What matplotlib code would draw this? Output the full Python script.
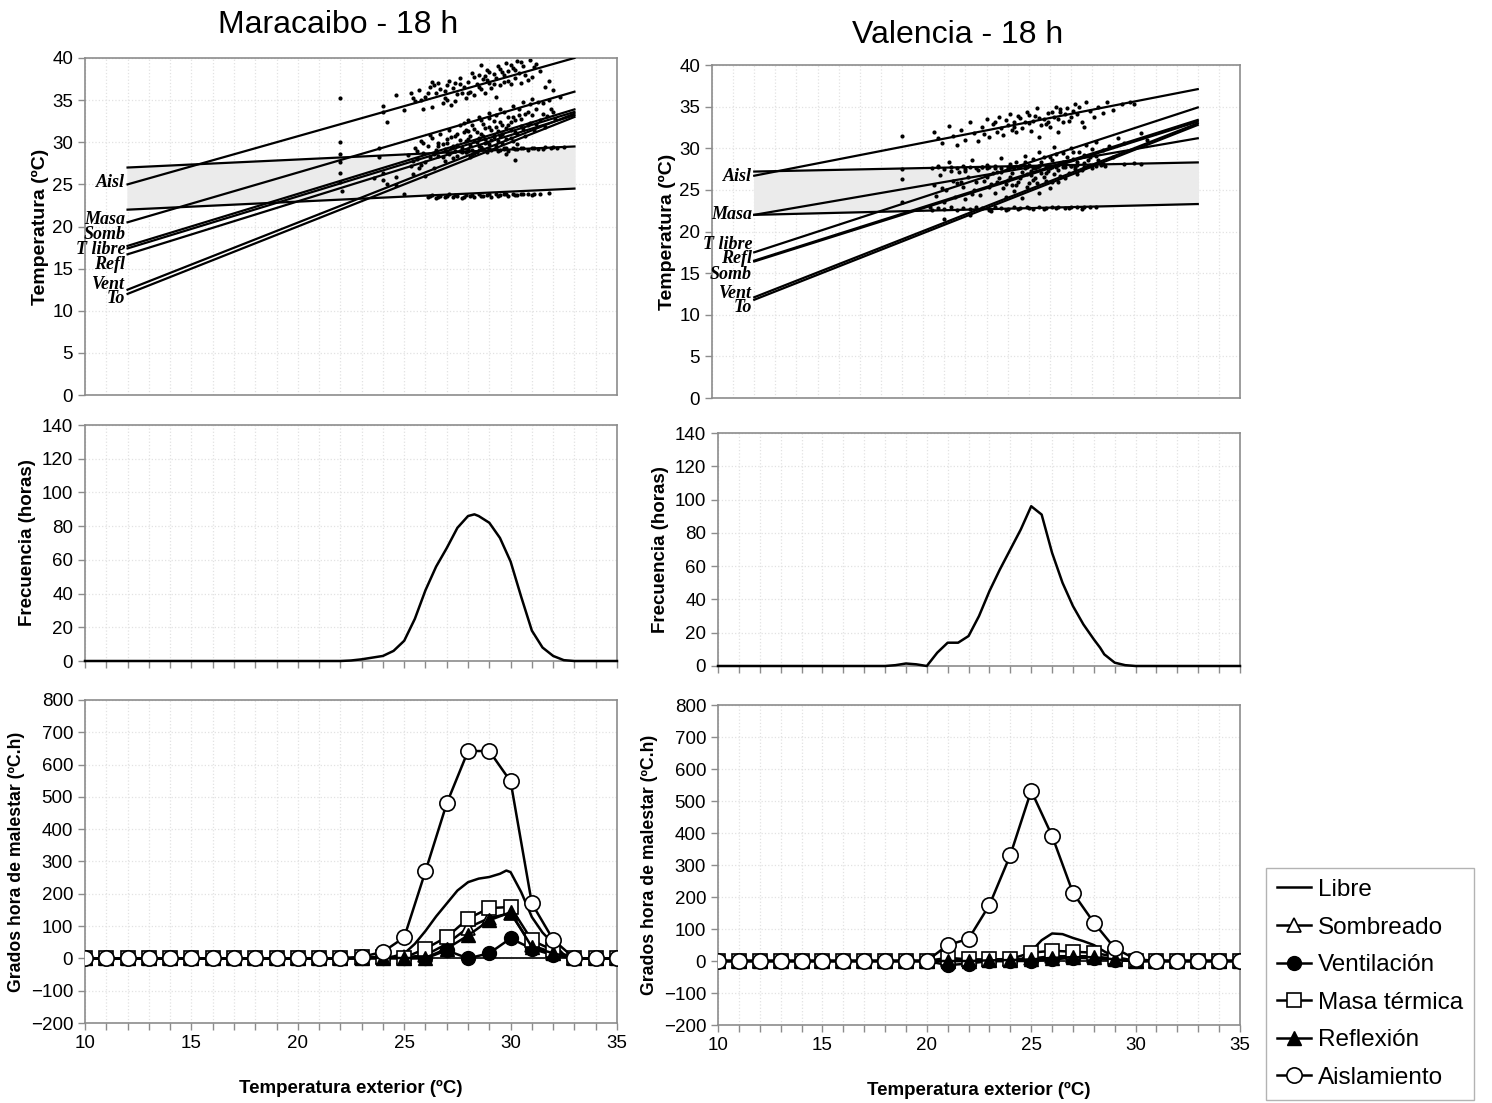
import matplotlib
matplotlib.use("Agg")
import matplotlib.pyplot as plt
import numpy as np

plt.rcParams['font.family'] = ['Liberation Sans', 'DejaVu Sans']

# ---------------- datos: rectas de regresión (x = 12 -> 33) ----------------
x_rectas = [12, 33]

mar_rectas = {
    "Aisl":    [25.0, 40.0],
    "Masa":    [20.5, 36.0],
    "Somb":    [17.7, 33.9],
    "T libre": [17.4, 33.6],
    "Refl":    [16.7, 33.2],
    "Vent":    [12.5, 33.4],
    "To":      [12.0, 33.0],
}
mar_banda_sup = [27.0, 29.5]
mar_banda_inf = [22.0, 24.5]
mar_etiq_y = {"Aisl": 25.2, "Masa": 20.8, "Somb": 19.0, "T libre": 17.3,
              "Refl": 15.5, "Vent": 13.1, "To": 11.4}

val_rectas = {
    "Aisl":    [26.7, 37.1],
    "Masa":    [22.0, 31.2],
    "T libre": [17.5, 34.9],
    "Refl":    [16.5, 33.4],
    "Somb":    [16.4, 33.2],
    "Vent":    [12.1, 33.0],
    "To":      [11.8, 32.8],
}
val_banda_sup = [27.2, 28.3]
val_banda_inf = [22.0, 23.3]
val_etiq_y = {"Aisl": 26.6, "Masa": 22.0, "T libre": 18.4, "Refl": 16.7,
              "Somb": 14.8, "Vent": 12.6, "To": 10.9}

# ---------------- datos: nubes de puntos ----------------
mar_sup_x = [24.6, 25.0, 25.3, 25.5, 25.7, 25.9, 26.0, 26.2, 26.3, 26.5, 26.6, 26.8, 26.9, 27.0,
             27.1, 27.3, 27.4, 27.5, 27.6, 27.8, 27.9, 28.0, 28.1, 28.2, 28.3, 28.4, 28.5, 28.6,
             28.7, 28.8, 28.9, 29.0, 29.1, 29.2, 29.3, 29.4, 29.5, 29.6, 29.7, 29.8, 29.9, 30.0,
             30.1, 30.2, 30.3, 30.4, 30.5, 30.6, 30.7, 30.9, 31.0, 31.2, 31.4, 31.6, 31.8, 32.0,
             26.4, 27.2, 28.6, 29.3, 22.0, 24.0, 24.0, 24.2,
             26.1, 26.7, 27.0, 27.4, 27.7, 28.0, 28.3, 28.5, 28.8, 29.0, 29.2, 29.5, 29.7, 30.0,
             30.2, 30.5, 30.8, 31.1, 27.6, 28.9, 29.9, 26.9, 25.4, 25.8, 26.3]
mar_sup_y = [35.6, 33.8, 35.9, 34.9, 36.2, 33.9, 35.4, 36.5, 34.2, 35.8, 37.0, 34.6, 36.1, 35.0,
             37.3, 36.4, 34.9, 35.7, 37.6, 36.6, 35.3, 37.2, 36.0, 38.2, 35.6, 36.9, 38.0, 36.3,
             37.5, 35.8, 38.6, 37.0, 36.4, 38.1, 37.6, 39.0, 36.8, 38.3, 37.2, 39.4, 38.5, 36.9,
             38.8, 37.6, 39.6, 38.2, 37.0, 39.1, 38.0, 39.8, 37.8, 39.3, 38.4, 36.5, 37.3, 36.2,
             36.8, 34.4, 39.2, 35.4, 35.3, 34.3, 33.6, 32.4,
             35.8, 36.3, 36.8, 37.0, 35.9, 35.8, 37.7, 36.5, 37.9, 38.3, 36.9, 38.7, 38.0, 39.2,
             38.6, 39.5, 37.4, 38.9, 36.9, 37.4, 37.3, 35.3, 35.2, 35.0, 37.2]

mar_nube_x = [22.0, 22.0, 22.0, 22.0, 22.0, 22.1, 23.8, 23.8, 24.0, 24.0, 24.2, 23.6, 24.6, 24.6,
              25.2, 25.3, 25.5, 25.6, 25.7, 25.8, 25.9, 26.0, 26.1, 26.2, 26.3, 26.4, 26.5, 26.6,
              26.7, 26.8, 26.9, 27.0, 27.0, 27.1, 27.2, 27.3, 27.4, 27.5, 27.6, 27.7, 27.8, 27.9,
              28.0, 28.0, 28.1, 28.2, 28.3, 28.4, 28.5, 28.5, 28.6, 28.7, 28.8, 28.9, 29.0, 29.0,
              29.1, 29.2, 29.3, 29.4, 29.5, 29.5, 29.6, 29.7, 29.8, 29.9, 30.0, 30.0, 30.1, 30.2,
              30.3, 30.4, 30.5, 30.6, 30.7, 30.8, 30.9, 31.0, 31.1, 31.2, 31.4, 31.5, 31.7, 31.9,
              32.1, 32.3, 29.8, 30.2, 25.4, 26.0, 27.4, 28.8, 29.6, 26.6, 27.9, 29.2,
              26.6, 26.8, 27.0, 27.1, 27.2, 27.3, 27.5, 27.5, 27.6, 27.7, 27.8, 27.9, 28.0, 28.0,
              28.1, 28.2, 28.3, 28.3, 28.4, 28.5, 28.6, 28.6, 28.7, 28.8, 28.9, 29.0, 29.0, 29.1,
              29.2, 29.3, 29.3, 29.4, 29.5, 29.6, 29.7, 29.8, 29.9, 30.0, 30.1, 30.2, 30.3, 30.4,
              30.5, 30.6, 30.7, 30.8, 30.9, 31.0, 31.2, 31.3, 31.5, 31.6, 31.8, 32.0, 26.2, 25.9,
              25.6, 25.4, 25.8, 26.4, 26.9, 27.4, 28.1, 29.6, 30.1]
mar_nube_y = [30.0, 28.6, 27.6, 26.4, 25.3, 24.2, 29.3, 28.2, 26.3, 25.5, 25.0, 25.8, 25.9, 24.9,
              28.5, 27.2, 29.3, 28.0, 26.9, 30.1, 28.7, 27.6, 29.6, 28.2, 30.5, 27.0, 29.1, 28.4,
              31.0, 29.8, 27.8, 30.4, 28.9, 31.5, 29.3, 28.1, 30.8, 29.7, 32.0, 28.8, 31.2, 30.1,
              29.2, 32.6, 30.7, 28.5, 31.6, 30.0, 33.0, 29.5, 31.0, 32.2, 30.4, 28.9, 31.8, 33.5,
              30.3, 32.5, 29.6, 31.3, 33.9, 30.7, 32.1, 29.3, 31.7, 33.0, 30.5, 32.4, 34.3, 31.2,
              29.8, 33.2, 31.9, 34.8, 30.8, 33.6, 32.3, 35.1, 31.5, 33.9, 32.6, 34.6, 33.1, 34.0,
              32.8, 35.4, 28.6, 27.9, 26.2, 26.0, 29.0, 29.9, 31.0, 29.9, 31.4, 30.9,
              29.5, 28.3, 29.9, 28.6, 30.6, 29.6, 28.4, 31.0, 30.3, 29.3, 32.3, 28.9, 30.4, 31.3,
              29.7, 32.0, 30.2, 28.7, 31.2, 30.5, 29.4, 32.6, 30.8, 31.7, 30.0, 32.9, 29.8, 31.4,
              30.6, 33.2, 31.8, 30.2, 32.4, 31.0, 33.6, 30.4, 32.0, 31.5, 33.0, 32.6, 31.0, 34.0,
              32.8, 31.6, 33.4, 32.0, 34.5, 33.2, 32.2, 34.8, 33.4, 31.8, 35.0, 33.6, 30.9, 29.9,
              29.0, 27.8, 27.3, 28.6, 29.2, 29.0, 28.2, 29.9, 30.1]

mar_bsup_x = [27.6, 27.9, 28.2, 28.4, 28.7, 28.9, 29.1, 29.3, 29.5, 29.7, 29.9, 30.1, 30.3, 30.5,
              30.8, 31.0, 31.3, 31.6, 31.9, 32.2, 32.5, 28.0, 28.5, 29.0, 29.4, 29.8, 30.2, 30.6,
              31.1, 31.5, 32.0]
mar_bsup_y = [29.0, 28.8, 29.1, 28.9, 29.2, 29.0, 29.1, 29.3, 29.1, 29.2, 29.0, 29.3, 29.2, 29.3,
              29.1, 29.3, 29.2, 29.4, 29.3, 29.3, 29.4, 29.0, 29.1, 29.2, 29.0, 29.3, 29.2, 29.3,
              29.3, 29.2, 29.4]
mar_binf_x = [25.0, 26.1, 26.3, 26.5, 26.7, 26.9, 27.1, 27.3, 27.5, 27.7, 27.9, 28.1, 28.3, 28.5,
              28.7, 28.9, 29.1, 29.3, 29.5, 29.7, 29.9, 30.1, 30.3, 30.5, 30.8, 31.1, 31.4, 31.8,
              26.2, 26.6, 27.0, 27.4, 27.8, 28.2, 28.6, 29.0, 29.4, 29.8, 30.2, 30.6, 31.0]
mar_binf_y = [23.9, 23.5, 23.7, 23.4, 23.6, 23.5, 23.8, 23.5, 23.6, 23.4, 23.7, 23.6, 23.5, 23.8,
              23.6, 23.7, 23.5, 23.8, 23.7, 23.9, 23.6, 23.8, 23.7, 23.9, 23.8, 23.9, 23.8, 24.0,
              23.6, 23.5, 23.6, 23.7, 23.5, 23.7, 23.6, 23.8, 23.6, 23.8, 23.7, 23.8, 23.7]

val_sup_x = [19.0, 20.5, 20.7, 20.9, 21.2, 21.4, 21.6, 21.8, 22.0, 22.2, 22.4, 22.6, 22.8, 23.0,
             23.1, 23.3, 23.5, 23.6, 23.8, 24.0, 24.1, 24.3, 24.4, 24.6, 24.7, 24.9, 25.0, 25.1,
             25.3, 25.4, 25.6, 25.7, 25.9, 26.0, 26.2, 26.3, 26.5, 26.6, 26.8, 27.0, 27.2, 27.3,
             27.5, 27.7, 27.9, 28.1, 28.3, 28.5, 28.7, 29.0, 29.4, 29.8, 30.0, 25.5, 26.4, 27.6,
             23.4, 23.9, 24.2, 24.5, 24.8, 25.0, 25.2, 25.5, 25.8, 26.1, 26.4, 26.7, 26.9, 27.1,
             27.4, 24.3, 23.7, 22.9, 25.9, 26.5]
val_sup_y = [31.5, 32.0, 31.2, 30.6, 32.7, 31.5, 30.4, 32.2, 31.0, 33.1, 31.8, 30.9, 32.5, 33.5,
             31.4, 32.9, 32.0, 33.8, 31.6, 32.8, 34.1, 33.2, 31.9, 33.6, 32.4, 34.4, 33.0, 32.1,
             33.9, 34.8, 32.8, 33.5, 34.2, 32.5, 33.8, 35.0, 34.3, 33.1, 34.8, 33.7, 35.3, 34.1,
             33.2, 35.5, 34.5, 33.8, 35.0, 34.2, 35.6, 34.6, 35.3, 35.6, 35.3, 31.4, 32.0, 32.6,
             33.1, 33.4, 32.2, 33.9, 33.2, 34.0, 33.3, 33.6, 32.9, 34.4, 33.5, 34.1, 33.3, 34.5,
             34.9, 32.6, 32.4, 31.7, 33.1, 34.7]

val_nube_x = [19.0, 19.0, 19.0, 20.5, 20.6, 20.8, 21.0, 21.1, 21.2, 21.4, 21.5, 21.7, 21.9, 22.0,
              22.1, 22.3, 22.4, 22.6, 22.7, 22.9, 23.0, 23.1, 23.3, 23.4, 23.6, 23.7, 23.9, 24.0,
              24.1, 24.3, 24.4, 24.5, 24.7, 24.8, 24.9, 25.0, 25.1, 25.3, 25.4, 25.5, 25.6, 25.7,
              25.9, 26.0, 26.1, 26.2, 26.3, 26.5, 26.6, 26.7, 26.9, 27.0, 27.1, 27.3, 27.4, 27.6,
              27.7, 27.9, 28.0, 28.2, 28.3, 28.5, 28.6, 28.8, 29.0, 29.2, 29.5, 30.3, 30.6, 23.2,
              22.2, 21.0, 20.3, 24.6, 25.2, 25.8, 26.4, 27.2, 23.5, 24.2,
              23.0, 23.2, 23.4, 23.5, 23.7, 23.8, 24.0, 24.1, 24.2, 24.4, 24.5, 24.6, 24.8, 24.9,
              25.0, 25.1, 25.2, 25.3, 25.5, 25.6, 25.7, 25.8, 26.0, 26.1, 26.2, 26.3, 26.4, 26.6,
              26.7, 26.8, 27.0, 27.1, 27.3, 27.5, 27.6, 27.8, 28.0, 28.2, 28.4, 22.5, 22.8, 22.0,
              21.8, 22.3, 23.9, 24.7, 25.5, 26.0, 21.3, 20.7, 20.9, 21.6]
val_nube_y = [27.5, 26.3, 23.6, 25.6, 24.3, 26.8, 23.5, 25.0, 28.3, 26.1, 24.1, 27.2, 25.4, 23.9,
              26.6, 28.6, 25.0, 27.4, 24.4, 26.1, 28.0, 25.3, 27.0, 24.6, 26.4, 28.8, 25.7, 27.5,
              26.6, 24.9, 28.3, 26.0, 27.1, 29.1, 25.4, 28.0, 26.8, 27.6, 25.8, 29.5, 28.4, 26.5,
              27.3, 28.9, 25.9, 30.2, 27.8, 26.7, 29.4, 28.1, 27.0, 30.0, 28.7, 26.9, 29.6, 28.2,
              30.4, 29.0, 27.6, 30.8, 28.6, 29.8, 27.9, 30.3, 29.0, 31.2, 30.6, 31.8, 31.0, 22.5,
              22.0, 21.5, 23.0, 27.8, 26.2, 27.0, 26.0, 27.5, 27.2, 25.6,
              26.5, 25.7, 27.6, 26.0, 27.1, 25.2, 26.2, 28.1, 27.0, 25.6, 27.7, 26.4, 28.4, 26.9,
              25.8, 27.3, 28.7, 26.4, 27.9, 27.0, 28.9, 26.1, 27.6, 28.6, 26.9, 29.3, 27.4, 28.3,
              26.4, 29.0, 27.9, 29.5, 28.3, 27.4, 29.2, 28.6, 29.9, 29.1, 28.0, 26.0, 27.7, 27.3,
              26.0, 24.5, 24.2, 24.0, 24.6, 25.2, 27.3, 27.9, 25.2, 25.8]

val_bsup_x = [20.4, 20.7, 21.0, 21.3, 21.6, 21.9, 22.2, 22.5, 22.8, 23.1, 23.4, 23.7, 24.0, 24.3,
              24.6, 24.9, 25.2, 25.5, 25.8, 26.1, 26.4, 26.7, 27.0, 27.3, 27.6, 27.9, 28.2, 28.5,
              29.5, 30.0, 30.3, 22.0, 23.0, 24.1, 24.8, 25.4, 26.0, 26.6, 27.2, 27.8]
val_bsup_y = [27.6, 27.8, 27.5, 27.7, 27.6, 27.9, 27.7, 27.6, 27.8, 27.7, 27.9, 27.6, 27.8, 27.7,
              27.9, 27.8, 27.6, 27.9, 27.7, 27.8, 28.0, 27.8, 27.9, 28.0, 27.8, 28.0, 27.9, 28.1,
              28.1, 28.2, 28.1, 27.5, 27.6, 27.7, 27.6, 27.8, 27.9, 27.7, 27.8, 27.9]
val_binf_x = [20.4, 20.7, 21.0, 21.3, 21.6, 21.9, 22.2, 22.5, 22.8, 23.1, 23.4, 23.7, 24.0, 24.3,
              24.6, 24.9, 25.2, 25.5, 25.8, 26.1, 26.4, 26.7, 27.0, 27.3, 27.6, 27.9, 28.2,
              23.9, 24.5, 25.0, 25.7, 26.3, 26.9, 27.5]
val_binf_y = [22.6, 22.8, 22.7, 22.9, 22.6, 22.8, 22.7, 22.9, 22.8, 22.6, 22.9, 22.8, 22.7, 22.9,
              22.8, 23.0, 22.7, 22.9, 22.8, 23.0, 22.9, 22.8, 23.0, 22.9, 23.0, 22.9, 23.0,
              22.6, 22.7, 22.8, 22.7, 22.8, 22.8, 22.7]

# ---------------- datos: frecuencias ----------------
frec_x = [10, 11, 12, 13, 14, 15, 16, 17, 18, 18.5, 19, 19.5, 20, 20.5, 21, 21.5, 22, 22.5,
          23, 23.5, 24, 24.5, 25, 25.5, 26, 26.5, 27, 27.5, 28, 28.3, 28.5, 29, 29.5, 30,
          30.5, 31, 31.5, 32, 32.5, 33, 34, 35]
mar_frec = [0, 0, 0, 0, 0, 0, 0, 0, 0, 0, 0, 0, 0, 0, 0, 0, 0, 0.3,
            1, 2, 3, 6, 12, 25, 42, 56, 67, 79, 86, 87, 86, 82, 73, 59,
            38, 18, 8, 3, 0.5, 0, 0, 0]
val_frec = [0, 0, 0, 0, 0, 0, 0, 0, 0, 0.5, 1.5, 1, 0, 8, 14, 14, 18, 30,
            45, 58, 70, 82, 96, 91, 68, 50, 36, 25, 16, 11, 7, 2, 0.5, 0,
            0, 0, 0, 0, 0, 0, 0, 0]

# ---------------- datos: grados hora de malestar ----------------
gh_x = list(range(10, 36))
mar_aisl = [0]*13 + [5, 20, 65, 270, 480, 642, 642, 548, 170, 58, 0, 0, 0]
mar_masa = [0]*13 + [3, 5, 2, 30, 66, 123, 156, 159, 56, 25, 0, 0, 0]
mar_somb = [0]*13 + [2, 3, 3, 10, 45, 95, 125, 140, 40, 18, 0, 0, 0]
mar_refl = [0]*13 + [1, 2, 1, 2, 30, 71, 118, 143, 35, 16, 0, 0, 0]
mar_vent = [0]*13 + [0, 0, 0, 0, 25, 0, 16, 62, 30, 10, 0, 0, 0]
mar_libre_x = [22, 23, 24, 24.5, 25, 25.5, 26, 26.5, 27, 27.5, 28, 28.5, 29, 29.5, 29.8, 30,
               30.5, 31, 31.5, 32, 32.5, 33]
mar_libre = [0, 0.5, 2, 6, 15, 45, 85, 130, 170, 210, 236, 247, 252, 262, 272, 267,
             205, 128, 80, 46, 12, 0]

val_aisl = [0]*11 + [50, 69, 175, 331, 532, 391, 213, 120, 40, 6, 0, 0, 0, 0, 0]
val_masa = [0]*11 + [10, 5, 5, 6, 26, 32, 29, 26, 13, 0, 0, 0, 0, 0, 0]
val_somb = [0]*11 + [3, 3, 3, 5, 8, 15, 15, 15, 6, 0, 0, 0, 0, 0, 0]
val_refl = [0]*11 + [0, 0, 2, 3, 5, 10, 12, 12, 5, 0, 0, 0, 0, 0, 0]
val_vent = [0]*11 + [-13, -8, 0, 0, 0, 5, 10, 8, 3, 0, 0, 0, 0, 0, 0]
val_libre_x = [20, 24, 24.5, 25, 25.5, 26, 26.5, 27, 27.5, 28, 28.5, 29, 29.5, 30]
val_libre = [0, 0, 3, 30, 65, 86, 84, 72, 62, 50, 30, 12, 2, 0]

# ---------------- figura ----------------
W, H = 1492, 1103
fig = plt.figure(figsize=(W / 100, H / 100), dpi=100)


def caja(l, r, t, b):
    return [l / W, 1 - b / H, (r - l) / W, (b - t) / H]


GRIS = '#8c8c8c'


def estilo(ax, ymin, ymax, ystep, xlabels, xticks_on=True):
    ax.set_xlim(10, 35)
    ax.set_ylim(ymin, ymax)
    ax.set_yticks(np.arange(ymin, ymax + 1, ystep))
    ax.set_xticks(np.arange(10, 36, 5))
    ax.set_xticks(np.arange(10, 36, 1), minor=True)
    ax.grid(True, which='both', axis='x', color='#e2e2e2', ls=':', lw=0.9)
    ax.grid(True, which='major', axis='y', color='#e2e2e2', ls=':', lw=0.9)
    ax.set_axisbelow(True)
    for s in ax.spines.values():
        s.set_color(GRIS)
        s.set_linewidth(1.2)
    ax.tick_params(axis='y', labelsize=13.5, color=GRIS, length=5, width=1)
    if xticks_on:
        ax.tick_params(axis='x', which='both', color=GRIS, length=5, width=1, labelsize=13.5)
    else:
        ax.tick_params(axis='x', which='both', length=0)
    if not xlabels:
        ax.set_xticklabels([])


def panel_rectas(ax, rectas, bsup, binf, etiq_y, nubes):
    estilo(ax, 0, 40, 5, False, xticks_on=False)
    ax.fill_between(x_rectas, binf, bsup, color='#ebebeb', zorder=1)
    ax.plot(x_rectas, bsup, color='black', lw=1.6, zorder=3)
    ax.plot(x_rectas, binf, color='black', lw=1.6, zorder=3)
    for nx, ny in nubes:
        ax.scatter(nx, ny, s=9, color='black', lw=0, zorder=2)
    for nombre, ys in rectas.items():
        ax.plot(x_rectas, ys, color='black', lw=1.6, zorder=3)
        ax.text(11.9, etiq_y[nombre], nombre, ha='right', va='center',
                family='Liberation Serif', style='italic', weight='bold', fontsize=13)
    ax.set_ylabel('Temperatura (ºC)', fontsize=14, weight='bold', labelpad=2)


def panel_frec(ax, f):
    estilo(ax, 0, 140, 20, False)
    ax.plot(frec_x, f, color='black', lw=1.8, zorder=3, clip_on=False)
    ax.set_ylabel('Frecuencia (horas)', fontsize=13.5, weight='bold', labelpad=4)


def panel_gh(ax, lx, ly, aisl, masa, somb, refl, vent):
    estilo(ax, -200, 800, 100, True)
    ax.axhline(0, color='black', lw=1.2, zorder=2)
    kw = dict(color='black', lw=1.8, zorder=3)
    ax.plot(lx, ly, label='Libre', **kw)
    ax.plot(gh_x, somb, marker='^', ms=10, mfc='white', mec='black', mew=1.2, label='Sombreado', **kw)
    ax.plot(gh_x, vent, marker='o', ms=10, mfc='black', mec='black', label='Ventilación', **kw)
    ax.plot(gh_x, masa, marker='s', ms=10, mfc='white', mec='black', mew=1.2, label='Masa térmica', **kw)
    ax.plot(gh_x, refl, marker='^', ms=10, mfc='black', mec='black', label='Reflexión', **kw)
    ax.plot(gh_x, aisl, marker='o', ms=11, mfc='white', mec='black', mew=1.2, label='Aislamiento', **kw)
    ax.set_ylabel('Grados hora de malestar (ºC.h)', fontsize=12.7, weight='bold', labelpad=4)
    ax.set_xlabel('Temperatura exterior (ºC)', fontsize=13.5, weight='bold', labelpad=20)


# Maracaibo
ax1 = fig.add_axes(caja(85, 617, 58, 395))
panel_rectas(ax1, mar_rectas, mar_banda_sup, mar_banda_inf, mar_etiq_y,
             [(mar_sup_x, mar_sup_y), (mar_nube_x, mar_nube_y),
              (mar_bsup_x, mar_bsup_y), (mar_binf_x, mar_binf_y)])
ax2 = fig.add_axes(caja(85, 617, 425, 661))
panel_frec(ax2, mar_frec)
ax3 = fig.add_axes(caja(85, 617, 700, 1023))
panel_gh(ax3, mar_libre_x, mar_libre, mar_aisl, mar_masa, mar_somb, mar_refl, mar_vent)

# Valencia
ax4 = fig.add_axes(caja(712, 1240, 65, 398))
panel_rectas(ax4, val_rectas, val_banda_sup, val_banda_inf, val_etiq_y,
             [(val_sup_x, val_sup_y), (val_nube_x, val_nube_y),
              (val_bsup_x, val_bsup_y), (val_binf_x, val_binf_y)])
ax5 = fig.add_axes(caja(718, 1240, 433, 666))
panel_frec(ax5, val_frec)
ax6 = fig.add_axes(caja(718, 1240, 705, 1025))
panel_gh(ax6, val_libre_x, val_libre, val_aisl, val_masa, val_somb, val_refl, val_vent)

fig.text(338 / W, 1 - 25 / H, 'Maracaibo - 18 h', fontsize=23, ha='center', va='center')
fig.text(958 / W, 1 - 35 / H, 'Valencia - 18 h', fontsize=23, ha='center', va='center')

h, l = ax6.get_legend_handles_labels()
leg = fig.legend(h, l, loc='upper left', bbox_to_anchor=(1266 / W, 1 - 868 / H),
                 fontsize=17.5, frameon=True, fancybox=False, handlelength=1.4,
                 handletextpad=0.3, labelspacing=0.64, borderpad=0.45, borderaxespad=0)
leg.get_frame().set_edgecolor('#a0a0a0')
leg.get_frame().set_linewidth(1.0)

fig.savefig('out.png', dpi=100)
